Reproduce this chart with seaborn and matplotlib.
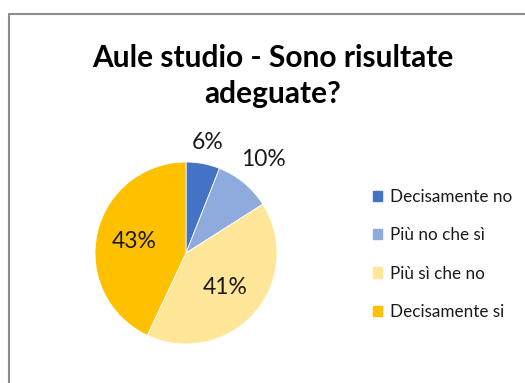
import numpy as np
import matplotlib
matplotlib.use("Agg")
import matplotlib.pyplot as plt
import matplotlib.patches as mpatches
from matplotlib.lines import Line2D
import seaborn as sns

categories = ["Decisamente no", "Più no che sì", "Più sì che no", "Decisamente si"]
values = [6, 10, 41, 43]
colors_hex = ["#4472C4", "#8FAADC", "#FFE699", "#FFC000"]
title = "Aule studio - Sono risultate\nadeguate?"

sns.set_theme(style="white")
plt.rcParams['font.family'] = ['Lato', 'DejaVu Sans']
palette = sns.color_palette(colors_hex)

W, H = 525, 383
fig = plt.figure(figsize=(W / 100, H / 100), dpi=100)
fig.patch.set_facecolor("white")

cx, cy, r = 186, H - 253, 91
ax = fig.add_axes([(cx - r) / W, (cy - r) / H, 2 * r / W, 2 * r / H])
wedges, texts = ax.pie(values, colors=palette, startangle=90, counterclock=False,
                       radius=1, wedgeprops=dict(linewidth=0.6, edgecolor="white"))
ax.set_xlim(-1, 1)
ax.set_ylim(-1, 1)
ax.set_aspect("equal")
ax.axis("off")

label_dist = [1.24, 1.33, 0.58, 0.58]
for w, v, d in zip(wedges, values, label_dist):
    ang = np.deg2rad((w.theta1 + w.theta2) / 2)
    ax.text(d * np.cos(ang), d * np.sin(ang), f"{v}%", ha="center", va="center",
            fontsize=16.5, color="#1a1a1a", clip_on=False)

fig.text(273 / W, 1 - 76 / H, title, ha="center", va="center", fontsize=21.5,
         fontweight="bold", color="black", linespacing=1.38)

handles = [mpatches.Patch(color=c, label=l) for c, l in zip(palette, categories)]
fig.legend(handles=handles, loc="center left", bbox_to_anchor=(373 / W, 1 - 254.5 / H),
           frameon=False, fontsize=12.3, handlelength=0.55, handleheight=0.55,
           handletextpad=0.45, labelspacing=1.3, borderpad=0, borderaxespad=0,
           labelcolor="#1a1a1a")

fig.add_artist(Line2D([8.5 / W, 8.5 / W, 1.0], [0, 1 - 13.5 / H, 1 - 13.5 / H],
                      transform=fig.transFigure, color="#8c8c8c", lw=1.5))

fig.savefig("out.png", dpi=100, facecolor="white")
